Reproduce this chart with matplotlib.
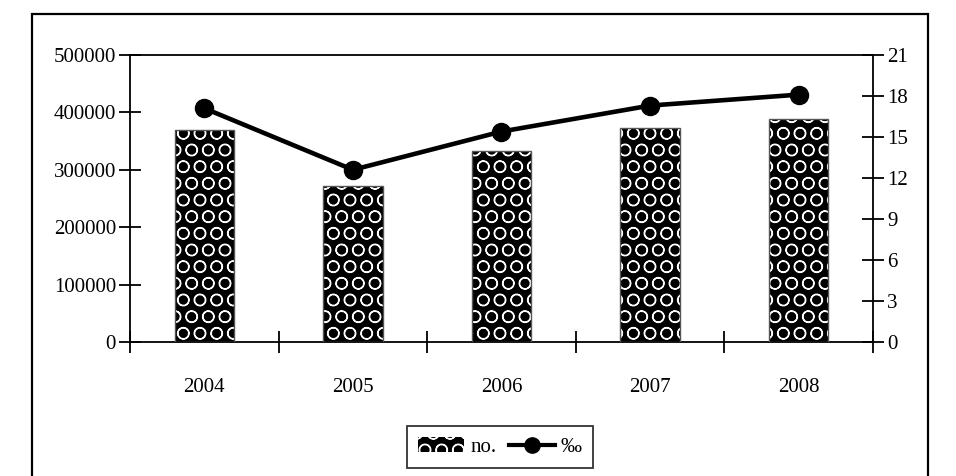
import matplotlib
matplotlib.use("Agg")
import matplotlib.pyplot as plt
from matplotlib.patches import Rectangle, Patch
from matplotlib.lines import Line2D
import numpy as np

years = ["2004", "2005", "2006", "2007", "2008"]
counts = [370000, 272000, 333000, 373000, 388000]
permille = [17.1, 12.6, 15.4, 17.3, 18.1]
left_ticks = [0, 100000, 200000, 300000, 400000, 500000]
right_ticks = [0, 3, 6, 9, 12, 15, 18, 21]

plt.rcParams['font.family'] = ['Liberation Serif', 'DejaVu Serif']
plt.rcParams['hatch.linewidth'] = 0.9

W, H = 956, 476
fig = plt.figure(figsize=(W / 100, H / 100), dpi=100)

# outer frame
fig.patches.append(Rectangle((32 / W, -0.05), (928 - 32) / W, (H - 14) / H + 0.05,
                             transform=fig.transFigure, fill=False,
                             edgecolor='black', linewidth=1.6))

ax = fig.add_axes([130 / W, 1 - 342 / H, (873 - 130) / W, (342 - 55) / H])
ax2 = ax.twinx()

x = np.arange(len(years)) + 0.5
ax.bar(x, counts, width=0.4, facecolor='black', edgecolor='white', hatch='O',
       linewidth=0, zorder=2)
ax.bar(x, counts, width=0.4, fill=False, edgecolor='#555555', linewidth=1.0, zorder=3)

ax2.plot(x, permille, color='black', linewidth=3.3, marker='o', markersize=13, zorder=4)

ax.set_xlim(0, len(years))
ax.set_ylim(0, 500000)
ax2.set_ylim(0, 21)
ax.set_yticks(left_ticks)
ax.set_yticklabels([str(v) for v in left_ticks])
ax2.set_yticks(right_ticks)
ax2.set_yticklabels([str(v) for v in right_ticks])
ax.set_xticks(np.arange(len(years) + 1))
ax.set_xticklabels([])
ax.set_xticks(x, minor=True)
ax.set_xticklabels(years, minor=True)

for a in (ax, ax2):
    for s in a.spines.values():
        s.set_linewidth(1.3)
ax.spines['right'].set_visible(False)
ax2.spines['left'].set_visible(False)
ax2.spines['top'].set_visible(False)
ax2.spines['bottom'].set_visible(False)

ax.tick_params(axis='y', direction='inout', length=16, width=1.3, labelsize=15, pad=2)
ax2.tick_params(axis='y', direction='inout', length=16, width=1.3, labelsize=15, pad=2)
ax.tick_params(axis='x', which='major', direction='inout', length=16, width=1.3)
ax.tick_params(axis='x', which='minor', length=0, labelsize=15, pad=26)

handles = [Patch(facecolor='black', edgecolor='white', hatch='O', linewidth=0),
           Line2D([0], [0], color='black', linewidth=3, marker='o', markersize=11)]
leg = fig.legend(handles, ['no.', '‰'], loc='center', bbox_to_anchor=(500 / W, 1 - 447 / H),
                 ncol=2, frameon=True, fancybox=False, edgecolor='black', fontsize=15,
                 handlelength=2.2, handletextpad=0.3, columnspacing=0.6,
                 borderpad=0.55)
leg.get_frame().set_linewidth(1.3)

fig.savefig('out.png', dpi=100)
